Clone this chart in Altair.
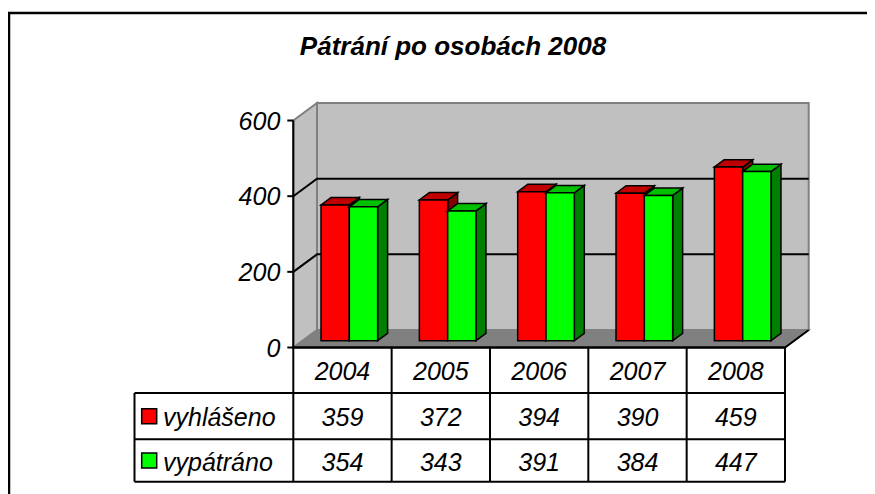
import altair as alt
import pandas as pd

# ---------------- data ----------------
title_text = "Pátrání po osobách 2008"
years = ["2004", "2005", "2006", "2007", "2008"]
series_names = ["vyhlášeno", "vypátráno"]
vyhlaseno = [359, 372, 394, 390, 459]
vypatrano = [354, 343, 391, 384, 447]
tick_values = [0, 200, 400, 600]
grid_values = [200, 400]

# ---------------- layout / style ----------------
W, H = 859, 486
FONT = "Liberation Sans"
X0 = 293.3 - 8      # chart x of category origin
KX = 98.34          # px per category
Y0 = 347.5 - 8      # chart y of value 0 (front plane)
KY = 0.3783         # px per value unit
DX = 23.7 / KX      # depth offset (category units)
DY = 17.5 / KY      # depth offset (value units)
VMAX = 600
NCAT = len(years)
BL, BW = 0.188, 0.288   # bar left offset and width within a category
DF, DB = 0.389, 0.809   # bar front / back depth
front_cols = ["#FF0000", "#00FF00"]
top_cols = ["#C00000", "#00C000"]
side_cols = ["#800000", "#008000"]


def ux(px):
    return (px - 8 - X0) / KX


def vy(py):
    return (Y0 - (py - 8)) / KY


xscale = alt.Scale(domain=[(0 - X0) / KX, (W - X0) / KX], nice=False, zero=False)
yscale = alt.Scale(domain=[(Y0 - H) / KY, Y0 / KY], nice=False, zero=False)


def X(f="x"):
    return alt.X(f"{f}:Q", scale=xscale, axis=None)


def Y(f="y"):
    return alt.Y(f"{f}:Q", scale=yscale, axis=None)


layers = []

# back wall
layers.append(alt.Chart(pd.DataFrame([{"x": DX, "x2": NCAT + DX, "y": DY, "y2": VMAX + DY}]))
              .mark_rect(fill="#C0C0C0", stroke="#808080", strokeWidth=2)
              .encode(x=X(), x2="x2", y=Y(), y2="y2"))
# side wall
layers.append(alt.Chart(pd.DataFrame([{"x": 0, "y": 0, "y2": VMAX}, {"x": DX, "y": DY, "y2": VMAX + DY}]))
              .mark_area(orient="vertical", fill="#C0C0C0", stroke="#808080", strokeWidth=2)
              .encode(x=X(), y=Y(), y2="y2"))
# floor
layers.append(alt.Chart(pd.DataFrame([{"y": 0, "x": 0, "x2": NCAT}, {"y": DY, "x": DX, "x2": NCAT + DX}]))
              .mark_area(orient="horizontal", fill="#808080", stroke="#808080", strokeWidth=1.5)
              .encode(y=Y(), x=X(), x2="x2"))
# gridlines
grid_rows = []
for g in grid_values:
    grid_rows += [{"g": g, "o": 0, "x": 0, "y": g},
                  {"g": g, "o": 1, "x": DX, "y": g + DY},
                  {"g": g, "o": 2, "x": NCAT + DX, "y": g + DY}]
layers.append(alt.Chart(pd.DataFrame(grid_rows))
              .mark_line(color="black", strokeWidth=2)
              .encode(x=X(), y=Y(), detail="g:N", order="o:Q"))
# floor front edge + right diagonal
layers.append(alt.Chart(pd.DataFrame([{"o": 0, "x": 0, "y": 0}, {"o": 1, "x": NCAT, "y": 0},
                                      {"o": 2, "x": NCAT + DX, "y": DY}]))
              .mark_line(color="black", strokeWidth=2)
              .encode(x=X(), y=Y(), order="o:Q"))
# axis line
layers.append(alt.Chart(pd.DataFrame([{"x": 0, "y": 0, "y2": VMAX}]))
              .mark_rule(color="black", strokeWidth=2)
              .encode(x=X(), y=Y(), y2="y2"))
# ticks + labels
tick_df = pd.DataFrame({"v": tick_values, "x": [-6 / KX] * 4, "x2": [0] * 4,
                        "lab": [str(t) for t in tick_values]})
layers.append(alt.Chart(tick_df).mark_rule(color="black", strokeWidth=2)
              .encode(x=X(), x2="x2", y=Y("v")))
layers.append(alt.Chart(tick_df).mark_text(align="right", baseline="middle", dx=-13, dy=1,
                                           font=FONT, fontSize=25, fontStyle="italic", color="black")
              .encode(x=X("x2"), y=Y("v"), text="lab:N"))

# bars
vals = [vyhlaseno, vypatrano]
for s in range(2):
    side_rows, top_rows, front_rows = [], [], []
    for i, v in enumerate(vals[s]):
        left = i + BL + s * BW
        right = left + BW
        bid = f"{s}-{i}"
        front_rows.append({"x": left + DF * DX, "x2": right + DF * DX, "y": DF * DY, "y2": v + DF * DY})
        side_rows += [{"id": bid, "x": right + DF * DX, "y": DF * DY, "y2": v + DF * DY},
                      {"id": bid, "x": right + DB * DX, "y": DB * DY, "y2": v + DB * DY}]
        top_rows += [{"id": bid, "y": v + DF * DY, "x": left + DF * DX, "x2": right + DF * DX},
                     {"id": bid, "y": v + DB * DY, "x": left + DB * DX, "x2": right + DB * DX}]
    layers.append(alt.Chart(pd.DataFrame(side_rows))
                  .mark_area(orient="vertical", fill=side_cols[s], stroke="black", strokeWidth=1.5)
                  .encode(x=X(), y=Y(), y2="y2", detail="id:N"))
    layers.append(alt.Chart(pd.DataFrame(top_rows))
                  .mark_area(orient="horizontal", fill=top_cols[s], stroke="black", strokeWidth=1.5)
                  .encode(y=Y(), x=X(), x2="x2", detail="id:N"))
    layers.append(alt.Chart(pd.DataFrame(front_rows))
                  .mark_rect(fill=front_cols[s], stroke="black", strokeWidth=1.5)
                  .encode(x=X(), x2="x2", y=Y(), y2="y2"))

# data table
TB = [347.5, 393.0, 439.3, 481.7]
TL = ux(134.5)
rows_v = [vy(p) for p in TB]
centers = [vy((TB[k] + TB[k + 1]) / 2) for k in range(3)]
hl = [{"x": 0, "x2": NCAT, "y": rows_v[0]}] + [{"x": TL, "x2": NCAT, "y": rows_v[k]} for k in (1, 2, 3)]
vl = [{"x": i, "y": rows_v[0], "y2": rows_v[3]} for i in range(NCAT + 1)] + \
     [{"x": TL, "y": rows_v[1], "y2": rows_v[3]}]
layers.append(alt.Chart(pd.DataFrame(hl)).mark_rule(color="black", strokeWidth=2)
              .encode(x=X(), x2="x2", y=Y()))
layers.append(alt.Chart(pd.DataFrame(vl)).mark_rule(color="black", strokeWidth=2)
              .encode(x=X(), y=Y(), y2="y2"))

cells = [{"x": i + 0.5, "y": centers[0], "t": y} for i, y in enumerate(years)]
for s in range(2):
    cells += [{"x": i + 0.5, "y": centers[s + 1], "t": str(v)} for i, v in enumerate(vals[s])]
layers.append(alt.Chart(pd.DataFrame(cells))
              .mark_text(align="center", baseline="middle", font=FONT, fontSize=25,
                         fontStyle="italic", color="black", dy=2)
              .encode(x=X(), y=Y(), text="t:N"))

leg = pd.DataFrame({"name": series_names, "col": front_cols,
                    "y": centers[1:], "xs": [ux(149.2)] * 2, "xt": [ux(163)] * 2})
layers.append(alt.Chart(leg)
              .mark_point(shape="square", size=225, filled=True, opacity=1, stroke="black", strokeWidth=1.5)
              .encode(x=X("xs"), y=Y(), fill=alt.Fill("col:N", scale=None)))
layers.append(alt.Chart(leg)
              .mark_text(align="left", baseline="middle", font=FONT, fontSize=25,
                         fontStyle="italic", color="black", dy=2)
              .encode(x=X("xt"), y=Y(), text="name:N"))

# title and frame
dummy = pd.DataFrame({"a": [0]})
layers.append(alt.Chart(dummy)
              .mark_text(align="center", baseline="middle", font=FONT, fontSize=26,
                         fontStyle="italic", fontWeight="bold", color="black")
              .encode(x=alt.value(453 - 8), y=alt.value(47 - 8), text=alt.value(title_text)))
layers.append(alt.Chart(dummy).mark_rule(color="black", strokeWidth=2.5)
              .encode(x=alt.value(1), y=alt.value(5), y2=alt.value(H)))
layers.append(alt.Chart(dummy).mark_rule(color="black", strokeWidth=2.5)
              .encode(x=alt.value(0), x2=alt.value(W), y=alt.value(5)))

chart = alt.layer(*layers).properties(width=W, height=H, padding=0, autosize="none",
                                      background="white").configure_view(stroke=None)
chart.save("out.html", embed_options={"renderer": "svg", "actions": False})
